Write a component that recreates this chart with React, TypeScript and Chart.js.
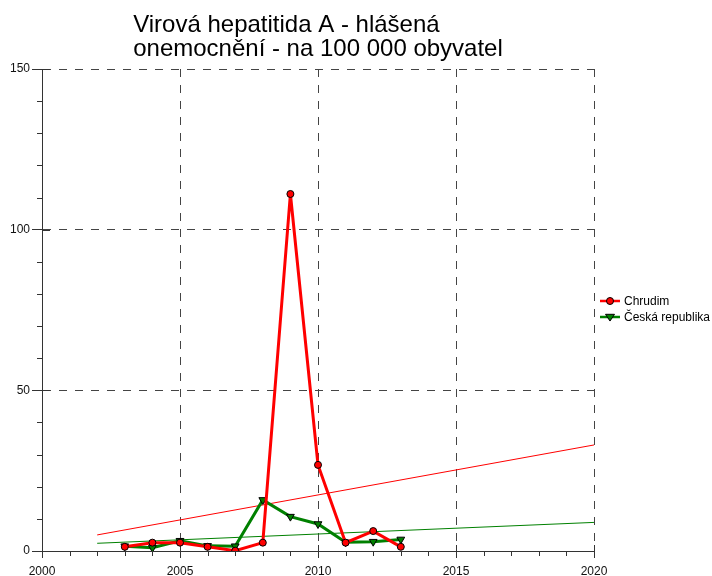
import React, { useEffect, useRef } from 'react';
import { Chart, registerables } from 'chart.js';

Chart.register(...registerables);

const years = [2003, 2004, 2005, 2006, 2007, 2008, 2009, 2010, 2011, 2012, 2013];
const chrudim = [1.3, 2.6, 2.6, 1.3, 0.1, 2.6, 111.1, 26.8, 2.6, 6.2, 1.3];
const ceskaRepublika = [1.5, 1.0, 3.2, 1.6, 1.5, 15.9, 10.7, 8.4, 2.7, 2.9, 3.6];
const trendYears = [2002, 2020];
const chrudimTrend = [5.0, 33.0];
const ceskaTrend = [2.4, 8.9];
const xTickValues = [2000, 2005, 2010, 2015, 2020];
const yTickValues = [0, 50, 100, 150];
const titleLines = ['Virová hepatitida A - hlášená', 'onemocnění - na 100 000 obyvatel'];
const seriesNames = ['Chrudim', 'Česká republika'];

const FONT = '"Liberation Sans", Arial, Helvetica, sans-serif';

const drawMarker = (ctx: CanvasRenderingContext2D, style: string, x: number, y: number, fill: string) => {
  ctx.save();
  ctx.fillStyle = fill;
  ctx.strokeStyle = '#000';
  ctx.lineWidth = 1;
  ctx.beginPath();
  if (style === 'circle') {
    ctx.arc(x, y, 3.5, 0, Math.PI * 2);
  } else {
    const r = 4.5;
    ctx.moveTo(x - r, y - r * 0.6);
    ctx.lineTo(x + r, y - r * 0.6);
    ctx.lineTo(x, y + r * 0.9);
    ctx.closePath();
  }
  ctx.fill();
  ctx.stroke();
  ctx.restore();
};

const extrasPlugin = {
  id: 'extras',
  beforeDatasetsDraw(chart: any) {
    const { ctx, chartArea, scales } = chart;
    const xs = scales.x;
    const ys = scales.y;
    ctx.save();
    ctx.strokeStyle = '#333';
    ctx.lineWidth = 1;
    ctx.beginPath();
    // minor ticks
    for (let v = 10; v < 150; v += 10) {
      if (v % 50 === 0) continue;
      const py = Math.round(ys.getPixelForValue(v)) + 0.5;
      ctx.moveTo(chartArea.left - 5, py);
      ctx.lineTo(chartArea.left, py);
    }
    for (let v = 2001; v < 2020; v++) {
      if (v % 5 === 0) continue;
      const px = Math.round(xs.getPixelForValue(v)) + 0.5;
      ctx.moveTo(px, chartArea.bottom);
      ctx.lineTo(px, chartArea.bottom + 5);
    }
    // inner part of major ticks
    yTickValues.forEach((v) => {
      const py = Math.round(ys.getPixelForValue(v)) + 0.5;
      ctx.moveTo(chartArea.left, py);
      ctx.lineTo(chartArea.left + 8, py);
    });
    xTickValues.forEach((v) => {
      const px = Math.round(xs.getPixelForValue(v)) + 0.5;
      ctx.moveTo(px, chartArea.bottom - 6);
      ctx.lineTo(px, chartArea.bottom);
    });
    ctx.stroke();
    ctx.restore();
  },
  afterDraw(chart: any) {
    const { ctx, chartArea } = chart;
    ctx.save();
    // title
    ctx.font = '24px ' + FONT;
    ctx.fillStyle = '#000';
    ctx.textAlign = 'left';
    ctx.textBaseline = 'alphabetic';
    const w = Math.max(...titleLines.map((l) => ctx.measureText(l).width));
    const tx = (chartArea.left + chartArea.right) / 2 - w / 2;
    titleLines.forEach((l, i) => ctx.fillText(l, tx, 32 + i * 24));

    // legend
    const mid = (chartArea.top + chartArea.bottom) / 2;
    const lx = chartArea.right + 6;
    ctx.font = '12px ' + FONT;
    ctx.textBaseline = 'middle';
    const styles = ['circle', 'triangle'];
    [0, 1].forEach((i) => {
      const ds = chart.data.datasets[i];
      const y = mid - 9 + i * 16;
      ctx.strokeStyle = ds.borderColor;
      ctx.lineWidth = 2.5;
      ctx.beginPath();
      ctx.moveTo(lx, y);
      ctx.lineTo(lx + 20, y);
      ctx.stroke();
      drawMarker(ctx, styles[i], lx + 10, y, ds.pointBackgroundColor);
      ctx.fillStyle = '#000';
      ctx.fillText(seriesNames[i], lx + 24, y + 1);
    });
    ctx.restore();
  },
};

export default function App() {
  const ref = useRef<HTMLCanvasElement>(null);
  useEffect(() => {
    document.body.style.margin = '0';
    const canvas = ref.current!;
    const chart = new Chart(canvas, {
      type: 'line',
      data: {
        datasets: [
          {
            label: seriesNames[0],
            data: years.map((x, i) => ({ x, y: chrudim[i] })),
            borderColor: '#ff0000',
            borderWidth: 3,
            pointStyle: 'circle',
            pointRadius: 3.5,
            pointBackgroundColor: '#ff0000',
            pointBorderColor: '#000',
            pointBorderWidth: 1,
            tension: 0,
          },
          {
            label: seriesNames[1],
            data: years.map((x, i) => ({ x, y: ceskaRepublika[i] })),
            borderColor: '#008000',
            borderWidth: 3,
            pointStyle: 'triangle',
            pointRotation: 180,
            pointRadius: 4.5,
            pointBackgroundColor: '#008000',
            pointBorderColor: '#000',
            pointBorderWidth: 1,
            tension: 0,
          },
          {
            label: 'trend1',
            data: trendYears.map((x, i) => ({ x, y: chrudimTrend[i] })),
            borderColor: '#ff0000',
            borderWidth: 1,
            pointRadius: 0,
          },
          {
            label: 'trend2',
            data: trendYears.map((x, i) => ({ x, y: ceskaTrend[i] })),
            borderColor: '#008000',
            borderWidth: 1,
            pointRadius: 0,
          },
        ],
      },
      options: {
        responsive: false,
        animation: false,
        layout: { padding: { top: 69, right: 118, left: 0, bottom: 0 } },
        plugins: { legend: { display: false }, title: { display: false }, tooltip: { enabled: false } },
        scales: {
          x: {
            type: 'linear',
            min: 2000,
            max: 2020,
            afterBuildTicks: (s: any) => {
              s.ticks = xTickValues.map((value) => ({ value }));
            },
            afterFit: (s: any) => {
              s.height = 25;
            },
            ticks: {
              callback: (v: any) => String(v),
              color: '#111',
              font: { family: FONT, size: 12 },
              padding: 6,
              maxRotation: 0,
            },
            grid: { color: '#444', lineWidth: 1, tickLength: 7, tickColor: '#333', tickBorderDash: [] },
            border: { display: true, color: '#333', width: 1, dash: [8, 8] },
          },
          y: {
            type: 'linear',
            min: 0,
            max: 150,
            afterBuildTicks: (s: any) => {
              s.ticks = yTickValues.map((value) => ({ value }));
            },
            afterFit: (s: any) => {
              s.width = 42;
            },
            ticks: {
              callback: (v: any) => String(v),
              color: '#111',
              font: { family: FONT, size: 12 },
              padding: 2,
            },
            grid: { color: '#444', lineWidth: 1, tickLength: 10, tickColor: '#333', tickBorderDash: [] },
            border: { display: true, color: '#333', width: 1, dash: [8, 8] },
          },
        },
      },
      plugins: [extrasPlugin],
    });
    return () => chart.destroy();
  }, []);
  return <canvas ref={ref} width={712} height={576} style={{ display: 'block' }} />;
}
